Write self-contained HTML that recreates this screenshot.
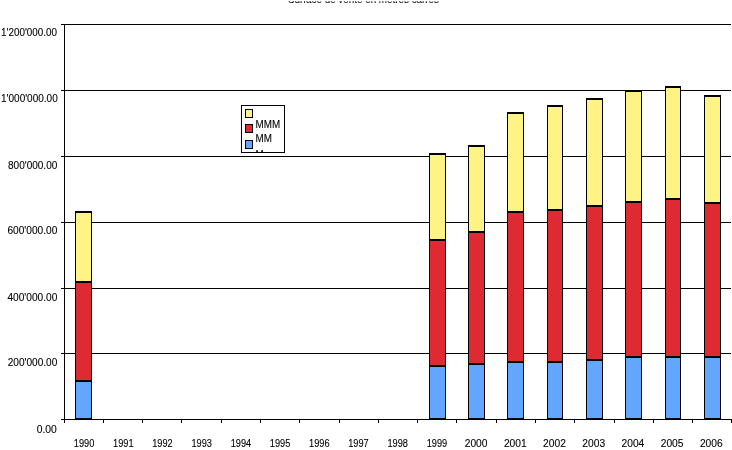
<!DOCTYPE html>
<html><head><meta charset="utf-8"><title>Surface de vente</title>
<style>html,body{margin:0;padding:0;background:#fff;overflow:hidden}svg{display:block}text{font-family:"Liberation Sans", Arial, Helvetica, sans-serif;fill:#000;stroke:#000;stroke-width:0.12px}</style>
</head><body>
<svg width="732" height="450" viewBox="0 0 732 450">
<defs><filter id="g" filterUnits="userSpaceOnUse" x="-10" y="-10" width="760" height="470" color-interpolation-filters="sRGB"><feColorMatrix type="saturate" values="0"/></filter></defs>
<rect x="0" y="0" width="732" height="450" fill="#fff"/>
<clipPath id="tc"><rect x="0" y="1.3" width="732" height="6"/></clipPath>
<g filter="url(#g)" clip-path="url(#tc)"><text x="288" y="3.2" font-size="11" textLength="151" lengthAdjust="spacingAndGlyphs">Surface de vente en mètres carrés</text></g>
<rect x="61" y="24" width="670" height="1" fill="#000"/>
<rect x="61" y="90" width="670" height="1" fill="#000"/>
<rect x="61" y="156" width="670" height="1" fill="#000"/>
<rect x="61" y="222" width="670" height="1" fill="#000"/>
<rect x="61" y="288" width="670" height="1" fill="#000"/>
<rect x="61" y="353" width="670" height="1" fill="#000"/>
<rect x="61" y="419" width="671" height="1" fill="#000"/>
<rect x="64" y="24" width="1" height="399" fill="#000"/>
<rect x="64" y="419" width="1" height="4" fill="#000"/>
<rect x="103" y="419" width="1" height="4" fill="#000"/>
<rect x="142" y="419" width="1" height="4" fill="#000"/>
<rect x="181" y="419" width="1" height="4" fill="#000"/>
<rect x="221" y="419" width="1" height="4" fill="#000"/>
<rect x="260" y="419" width="1" height="4" fill="#000"/>
<rect x="299" y="419" width="1" height="4" fill="#000"/>
<rect x="339" y="419" width="1" height="4" fill="#000"/>
<rect x="378" y="419" width="1" height="4" fill="#000"/>
<rect x="417" y="419" width="1" height="4" fill="#000"/>
<rect x="456" y="419" width="1" height="4" fill="#000"/>
<rect x="496" y="419" width="1" height="4" fill="#000"/>
<rect x="535" y="419" width="1" height="4" fill="#000"/>
<rect x="574" y="419" width="1" height="4" fill="#000"/>
<rect x="614" y="419" width="1" height="4" fill="#000"/>
<rect x="653" y="419" width="1" height="4" fill="#000"/>
<rect x="692" y="419" width="1" height="4" fill="#000"/>
<rect x="731" y="419" width="1" height="4" fill="#000"/>
<rect x="75" y="211" width="17" height="208" fill="#000"/>
<rect x="76" y="213" width="15" height="68" fill="#fff385"/>
<rect x="76" y="283" width="15" height="97" fill="#dd2a33"/>
<rect x="76" y="382" width="15" height="36" fill="#62a6ff"/>
<rect x="429" y="153" width="17" height="266" fill="#000"/>
<rect x="430" y="155" width="15" height="84" fill="#fff385"/>
<rect x="430" y="241" width="15" height="124" fill="#dd2a33"/>
<rect x="430" y="367" width="15" height="51" fill="#62a6ff"/>
<rect x="468" y="145" width="17" height="274" fill="#000"/>
<rect x="469" y="147" width="15" height="84" fill="#fff385"/>
<rect x="469" y="233" width="15" height="130" fill="#dd2a33"/>
<rect x="469" y="365" width="15" height="53" fill="#62a6ff"/>
<rect x="507" y="112" width="17" height="307" fill="#000"/>
<rect x="508" y="114" width="15" height="97" fill="#fff385"/>
<rect x="508" y="213" width="15" height="148" fill="#dd2a33"/>
<rect x="508" y="363" width="15" height="55" fill="#62a6ff"/>
<rect x="547" y="105" width="16" height="314" fill="#000"/>
<rect x="548" y="107" width="14" height="102" fill="#fff385"/>
<rect x="548" y="211" width="14" height="150" fill="#dd2a33"/>
<rect x="548" y="363" width="14" height="55" fill="#62a6ff"/>
<rect x="586" y="98" width="17" height="321" fill="#000"/>
<rect x="587" y="100" width="15" height="105" fill="#fff385"/>
<rect x="587" y="207" width="15" height="152" fill="#dd2a33"/>
<rect x="587" y="361" width="15" height="57" fill="#62a6ff"/>
<rect x="625" y="90" width="17" height="329" fill="#000"/>
<rect x="626" y="92" width="15" height="109" fill="#fff385"/>
<rect x="626" y="203" width="15" height="153" fill="#dd2a33"/>
<rect x="626" y="358" width="15" height="60" fill="#62a6ff"/>
<rect x="665" y="86" width="16" height="333" fill="#000"/>
<rect x="666" y="88" width="14" height="110" fill="#fff385"/>
<rect x="666" y="200" width="14" height="156" fill="#dd2a33"/>
<rect x="666" y="358" width="14" height="60" fill="#62a6ff"/>
<rect x="704" y="95" width="17" height="324" fill="#000"/>
<rect x="705" y="97" width="15" height="105" fill="#fff385"/>
<rect x="705" y="204" width="15" height="152" fill="#dd2a33"/>
<rect x="705" y="358" width="15" height="60" fill="#62a6ff"/>
<rect x="241.5" y="105.5" width="43" height="47" fill="#fff" stroke="#000" stroke-width="1"/>
<rect x="245.5" y="109.5" width="7" height="8" fill="#fff385" stroke="#000" stroke-width="1"/>
<rect x="245.5" y="124.5" width="7" height="8" fill="#dd2a33" stroke="#000" stroke-width="1"/>
<rect x="245.5" y="140.5" width="7" height="8" fill="#62a6ff" stroke="#000" stroke-width="1"/>
<svg x="242" y="106" width="42" height="46" overflow="hidden"><g filter="url(#g)">
<text x="13.5" y="22" font-size="11" textLength="24.6" lengthAdjust="spacingAndGlyphs">MMM</text>
<text x="13.5" y="36" font-size="11" textLength="16.4" lengthAdjust="spacingAndGlyphs">MM</text>
<text x="13.5" y="52" font-size="11" textLength="8.2" lengthAdjust="spacingAndGlyphs">M</text>
</g></svg>
<g filter="url(#g)">
<text x="1.10" y="36.2" font-size="11.5" textLength="55.90" lengthAdjust="spacingAndGlyphs">1'200'000.00</text>
<text x="1.05" y="102.1" font-size="11.5" textLength="56.65" lengthAdjust="spacingAndGlyphs">1'000'000.00</text>
<text x="8.00" y="168.7" font-size="11.5" textLength="49.30" lengthAdjust="spacingAndGlyphs">800'000.00</text>
<text x="7.40" y="234.4" font-size="11.5" textLength="49.90" lengthAdjust="spacingAndGlyphs">600'000.00</text>
<text x="7.40" y="300.5" font-size="11.5" textLength="49.90" lengthAdjust="spacingAndGlyphs">400'000.00</text>
<text x="7.70" y="366.4" font-size="11.5" textLength="49.60" lengthAdjust="spacingAndGlyphs">200'000.00</text>
<text x="36.70" y="432.9" font-size="11.5" textLength="20.10" lengthAdjust="spacingAndGlyphs">0.00</text>
<text x="73.85" y="446.5" font-size="11.5" textLength="20.5" lengthAdjust="spacingAndGlyphs">1990</text>
<text x="113.05" y="446.5" font-size="11.5" textLength="20.5" lengthAdjust="spacingAndGlyphs">1991</text>
<text x="152.25" y="446.5" font-size="11.5" textLength="20.5" lengthAdjust="spacingAndGlyphs">1992</text>
<text x="191.45" y="446.5" font-size="11.5" textLength="20.5" lengthAdjust="spacingAndGlyphs">1993</text>
<text x="230.65" y="446.5" font-size="11.5" textLength="20.5" lengthAdjust="spacingAndGlyphs">1994</text>
<text x="269.85" y="446.5" font-size="11.5" textLength="20.5" lengthAdjust="spacingAndGlyphs">1995</text>
<text x="309.05" y="446.5" font-size="11.5" textLength="20.5" lengthAdjust="spacingAndGlyphs">1996</text>
<text x="348.25" y="446.5" font-size="11.5" textLength="20.5" lengthAdjust="spacingAndGlyphs">1997</text>
<text x="387.45" y="446.5" font-size="11.5" textLength="20.5" lengthAdjust="spacingAndGlyphs">1998</text>
<text x="426.65" y="446.5" font-size="11.5" textLength="20.5" lengthAdjust="spacingAndGlyphs">1999</text>
<text x="464.70" y="446.5" font-size="11.5" textLength="22.8" lengthAdjust="spacingAndGlyphs">2000</text>
<text x="503.90" y="446.5" font-size="11.5" textLength="22.8" lengthAdjust="spacingAndGlyphs">2001</text>
<text x="543.10" y="446.5" font-size="11.5" textLength="22.8" lengthAdjust="spacingAndGlyphs">2002</text>
<text x="582.30" y="446.5" font-size="11.5" textLength="22.8" lengthAdjust="spacingAndGlyphs">2003</text>
<text x="621.50" y="446.5" font-size="11.5" textLength="22.8" lengthAdjust="spacingAndGlyphs">2004</text>
<text x="660.70" y="446.5" font-size="11.5" textLength="22.8" lengthAdjust="spacingAndGlyphs">2005</text>
<text x="699.90" y="446.5" font-size="11.5" textLength="22.8" lengthAdjust="spacingAndGlyphs">2006</text>
</g>
</svg>
</body></html>
